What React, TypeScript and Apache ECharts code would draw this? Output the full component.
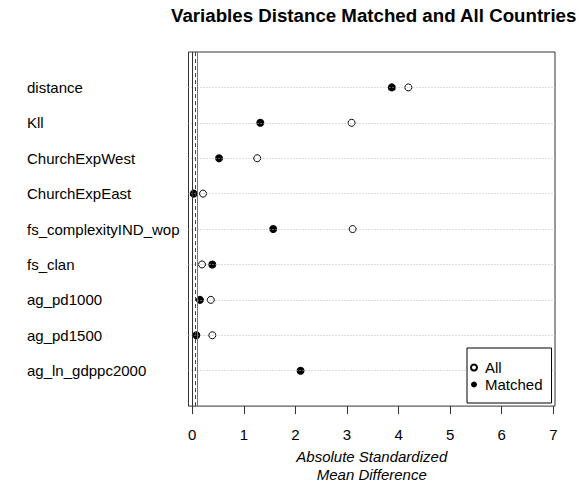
import React, { useEffect, useRef } from "react";
import * as echarts from "echarts";

const categories = [
  "distance",
  "Kll",
  "ChurchExpWest",
  "ChurchExpEast",
  "fs_complexityIND_wop",
  "fs_clan",
  "ag_pd1000",
  "ag_pd1500",
  "ag_ln_gdppc2000",
];
const allValues = [4.19, 3.09, 1.26, 0.21, 3.11, 0.19, 0.36, 0.39, 6.77];
const matchedValues = [3.87, 1.32, 0.52, 0.03, 1.57, 0.39, 0.15, 0.08, 2.1];
const xTicks = [0, 1, 2, 3, 4, 5, 6, 7];
const refLines = [0, 0.05, 0.1];

const FONT = "'Liberation Sans', Arial, sans-serif";

export default function App() {
  const ref = useRef<HTMLDivElement>(null);
  useEffect(() => {
    if (!ref.current) return;
    const chart = echarts.init(ref.current, null, { renderer: "svg" });
    const n = categories.length;
    const rowPos = (i: number) => n - i;
    const option: any = {
      animation: false,
      backgroundColor: "#ffffff",
      textStyle: { fontFamily: FONT, color: "#000" },
      title: {
        text: "Variables Distance Matched and All Countries",
        left: 166,
        top: 1,
        padding: 5,
        textStyle: { fontFamily: FONT, fontSize: 18.7, fontWeight: "bold", color: "#000" },
      },
      grid: {
        left: 188.5,
        right: 25,
        top: 52,
        bottom: 78,
        show: true,
        borderColor: "#333",
        borderWidth: 1,
        backgroundColor: "transparent",
      },
      xAxis: {
        type: "value",
        min: -0.072,
        max: 7.033,
        axisLine: { show: false },
        splitLine: { show: false },
        axisTick: {
          show: true,
          length: 8,
          inside: false,
          customValues: xTicks,
          lineStyle: { color: "#333" },
        },
        axisLabel: {
          customValues: xTicks,
          margin: 21,
          fontSize: 15,
          color: "#000",
          fontFamily: FONT,
        },
        name: "Absolute Standardized\nMean Difference",
        nameLocation: "middle",
        nameGap: 37,
        nameTextStyle: {
          fontFamily: FONT,
          fontSize: 15,
          fontStyle: "italic",
          color: "#000",
          lineHeight: 18,
        },
      },
      yAxis: {
        type: "value",
        min: 0,
        max: n + 1,
        axisLine: { show: false },
        axisTick: { show: false },
        splitLine: { show: false },
        axisLabel: {
          customValues: categories.map((_, i) => rowPos(i)),
          formatter: (v: number) => categories[n - Math.round(v)] ?? "",
          align: "left",
          margin: 161.5,
          fontSize: 15,
          color: "#000",
          fontFamily: FONT,
        },
      },
      legend: {
        left: 467,
        top: 348,
        orient: "vertical",
        data: ["All", "Matched"],
        backgroundColor: "#fff",
        borderColor: "#000",
        borderWidth: 1,
        borderRadius: 0,
        padding: [11, 9, 10, 3],
        itemWidth: 12,
        itemHeight: 6,
        itemGap: 0,
        z: 10,
        textStyle: { fontFamily: FONT, fontSize: 15, color: "#000", lineHeight: 17 },
      },
      series: [
        {
          type: "line",
          data: [],
          silent: true,
          z: 1,
          markLine: {
            silent: true,
            symbol: "none",
            label: { show: false },
            animation: false,
            data: [
              ...categories.map((_, i) => ({
                yAxis: rowPos(i),
                lineStyle: { color: "#bbb", type: [1, 2], width: 1 },
              })),
              { xAxis: refLines[0], lineStyle: { color: "#333", type: "solid", width: 1 } },
              { xAxis: refLines[1], lineStyle: { color: "#444", type: [4, 3], width: 1 } },
              { xAxis: refLines[2], lineStyle: { color: "#777", type: "solid", width: 1 } },
            ],
          },
        },
        {
          name: "All",
          type: "scatter",
          z: 3,
          symbol: "circle",
          symbolSize: 7,
          itemStyle: { color: "#fff", borderColor: "#000", borderWidth: 1, opacity: 1 },
          data: allValues.map((v, i) => [v, rowPos(i)]),
        },
        {
          name: "Matched",
          type: "scatter",
          z: 3,
          symbol: "circle",
          symbolSize: 8,
          itemStyle: { color: "#000", borderColor: "#000", borderWidth: 0, opacity: 1 },
          data: matchedValues.map((v, i) => [v, rowPos(i)]),
        },
      ],
    };
    chart.setOption(option);
    return () => chart.dispose();
  }, []);
  return (
    <div
      ref={ref}
      style={{ position: "absolute", left: 0, top: 0, width: 580, height: 488 }}
    />
  );
}
